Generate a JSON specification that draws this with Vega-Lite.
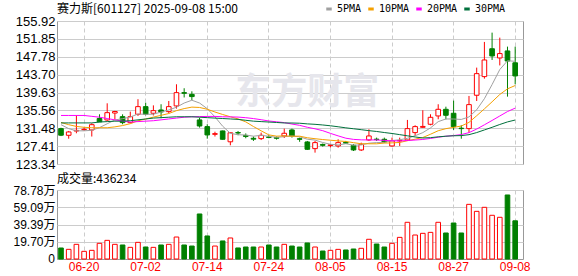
{
  "$schema": "https://vega.github.io/schema/vega-lite/v6.json",
  "background": "white",
  "padding": {"left": 12, "top": 2, "right": 0, "bottom": 0},
  "autosize": {"type": "pad"},
  "config": {
    "view": {"stroke": "#999999", "strokeWidth": 1},
    "bounds": "flush",
    "axis": {"labelFont": "Liberation Sans, Noto Sans CJK SC", "labelColor": "#000000"}
  },
  "spacing": 0,
  "datasets": {
    "k": [
      {"d":"06-17","o":131.4,"h":131.6,"l":129.7,"c":129.9,"pre":131.3,"v":125600,"5PMA":132.3,"10PMA":132.8,"20PMA":134.4,"30PMA":132.7},
      {"d":"06-18","o":129.88,"h":130.87,"l":129.1,"c":130.64,"pre":129.9,"v":110400,"5PMA":131.4,"10PMA":132.3,"20PMA":134.4,"30PMA":132.7},
      {"d":"06-19","o":130.85,"h":134.44,"l":130.34,"c":131.0,"pre":130.64,"v":167500,"5PMA":130.9,"10PMA":131.9,"20PMA":134.4,"30PMA":132.7},
      {"d":"06-20","o":131.15,"h":131.7,"l":130.9,"c":131.25,"pre":131.0,"v":87500,"5PMA":130.9,"10PMA":131.7,"20PMA":134.4,"30PMA":132.7},
      {"d":"06-23","o":131.1,"h":132.61,"l":129.6,"c":132.3,"pre":131.25,"v":99000,"5PMA":131.02,"10PMA":131.6,"20PMA":134.2,"30PMA":132.7},
      {"d":"06-24","o":133.7,"h":134.66,"l":132.9,"c":132.95,"pre":132.3,"v":179000,"5PMA":131.63,"10PMA":131.6,"20PMA":134.0,"30PMA":132.9},
      {"d":"06-25","o":133.37,"h":137.17,"l":133.15,"c":135.04,"pre":132.95,"v":213000,"5PMA":132.51,"10PMA":131.6,"20PMA":133.7,"30PMA":133.0},
      {"d":"06-26","o":134.95,"h":135.45,"l":133.5,"c":135.3,"pre":135.04,"v":167500,"5PMA":133.37,"10PMA":131.8,"20PMA":133.4,"30PMA":133.1},
      {"d":"06-27","o":134.13,"h":134.66,"l":132.39,"c":132.77,"pre":135.3,"v":160000,"5PMA":133.67,"10PMA":132.1,"20PMA":133.1,"30PMA":133.1},
      {"d":"06-30","o":132.77,"h":135.27,"l":132.6,"c":134.12,"pre":132.77,"v":133000,"5PMA":134.04,"10PMA":132.53,"20PMA":132.9,"30PMA":133.2},
      {"d":"07-01","o":134.67,"h":138.1,"l":134.3,"c":136.41,"pre":134.12,"v":190000,"5PMA":134.73,"10PMA":133.18,"20PMA":133.0,"30PMA":133.4},
      {"d":"07-02","o":136.41,"h":137.3,"l":134.43,"c":134.67,"pre":136.41,"v":137000,"5PMA":134.65,"10PMA":133.58,"20PMA":133.1,"30PMA":133.6},
      {"d":"07-03","o":134.9,"h":136.7,"l":134.4,"c":135.5,"pre":134.67,"v":133000,"5PMA":134.69,"10PMA":134.03,"20PMA":133.2,"30PMA":133.8},
      {"d":"07-04","o":135.65,"h":136.95,"l":133.76,"c":135.2,"pre":135.5,"v":160000,"5PMA":135.18,"10PMA":134.43,"20PMA":133.4,"30PMA":133.9},
      {"d":"07-07","o":135.27,"h":137.7,"l":134.9,"c":136.41,"pre":135.2,"v":167500,"5PMA":135.64,"10PMA":134.84,"20PMA":133.6,"30PMA":134.0},
      {"d":"07-08","o":136.57,"h":141.5,"l":135.96,"c":139.6,"pre":136.41,"v":251000,"5PMA":136.28,"10PMA":135.5,"20PMA":133.8,"30PMA":134.1},
      {"d":"07-09","o":139.6,"h":140.6,"l":138.5,"c":139.45,"pre":139.6,"v":160000,"5PMA":137.23,"10PMA":135.96,"20PMA":134.0,"30PMA":134.1},
      {"d":"07-10","o":139.2,"h":139.9,"l":137.9,"c":138.7,"pre":139.45,"v":148000,"5PMA":137.87,"10PMA":136.3,"20PMA":134.1,"30PMA":134.1},
      {"d":"07-11","o":133.38,"h":133.9,"l":131.63,"c":132.0,"pre":138.7,"v":514000,"5PMA":137.23,"10PMA":136.22,"20PMA":134.15,"30PMA":134.0},
      {"d":"07-14","o":131.86,"h":132.4,"l":129.1,"c":129.96,"pre":132.0,"v":263000,"5PMA":135.94,"10PMA":135.81,"20PMA":134.17,"30PMA":133.9},
      {"d":"07-15","o":130.1,"h":130.7,"l":129.6,"c":130.26,"pre":129.96,"v":148000,"5PMA":134.07,"10PMA":135.19,"20PMA":134.19,"30PMA":133.8},
      {"d":"07-16","o":130.87,"h":130.95,"l":128.9,"c":128.97,"pre":130.26,"v":206000,"5PMA":131.95,"10PMA":134.62,"20PMA":134.1,"30PMA":133.7},
      {"d":"07-17","o":128.4,"h":130.49,"l":127.6,"c":130.45,"pre":128.97,"v":240000,"5PMA":130.33,"10PMA":134.1,"20PMA":134.07,"30PMA":133.6},
      {"d":"07-18","o":130.5,"h":130.85,"l":129.9,"c":130.4,"pre":130.45,"v":126000,"5PMA":130.01,"10PMA":133.62,"20PMA":134.03,"30PMA":133.5},
      {"d":"07-21","o":129.85,"h":130.3,"l":129.2,"c":129.6,"pre":130.4,"v":137000,"5PMA":129.94,"10PMA":132.94,"20PMA":133.89,"30PMA":133.3},
      {"d":"07-22","o":129.2,"h":129.6,"l":128.6,"c":129.0,"pre":129.6,"v":137000,"5PMA":129.68,"10PMA":131.88,"20PMA":133.69,"30PMA":133.1},
      {"d":"07-23","o":129.12,"h":130.49,"l":128.8,"c":129.88,"pre":129.0,"v":137000,"5PMA":129.87,"10PMA":130.9,"20PMA":133.43,"30PMA":133.0},
      {"d":"07-24","o":129.5,"h":129.9,"l":129.2,"c":129.4,"pre":129.88,"v":160000,"5PMA":129.66,"10PMA":129.97,"20PMA":133.14,"30PMA":132.9},
      {"d":"07-25","o":129.35,"h":129.6,"l":128.9,"c":129.2,"pre":129.4,"v":137000,"5PMA":129.42,"10PMA":129.69,"20PMA":132.96,"30PMA":132.8},
      {"d":"07-28","o":129.73,"h":131.4,"l":129.27,"c":130.34,"pre":129.2,"v":167500,"5PMA":129.56,"10PMA":129.73,"20PMA":132.77,"30PMA":132.69},
      {"d":"07-29","o":131.1,"h":131.4,"l":129.35,"c":129.73,"pre":130.34,"v":148000,"5PMA":129.71,"10PMA":129.68,"20PMA":132.44,"30PMA":132.68},
      {"d":"07-30","o":129.1,"h":129.35,"l":128.4,"c":128.97,"pre":129.73,"v":137000,"5PMA":129.53,"10PMA":129.68,"20PMA":132.15,"30PMA":132.63},
      {"d":"07-31","o":128.36,"h":128.59,"l":126.54,"c":126.69,"pre":128.97,"v":183000,"5PMA":128.99,"10PMA":129.32,"20PMA":131.71,"30PMA":132.48},
      {"d":"08-01","o":126.84,"h":128.59,"l":125.93,"c":128.21,"pre":126.69,"v":137000,"5PMA":128.79,"10PMA":129.1,"20PMA":131.36,"30PMA":132.38},
      {"d":"08-04","o":127.8,"h":128.0,"l":127.3,"c":127.6,"pre":128.21,"v":91000,"5PMA":128.24,"10PMA":128.91,"20PMA":130.93,"30PMA":132.23},
      {"d":"08-05","o":127.55,"h":127.9,"l":127.1,"c":127.7,"pre":127.6,"v":99000,"5PMA":127.83,"10PMA":128.76,"20PMA":130.32,"30PMA":132.05},
      {"d":"08-06","o":127.45,"h":128.97,"l":127.07,"c":128.21,"pre":127.7,"v":110000,"5PMA":127.68,"10PMA":128.6,"20PMA":129.75,"30PMA":131.82},
      {"d":"08-07","o":128.25,"h":128.6,"l":127.9,"c":128.1,"pre":128.21,"v":103000,"5PMA":127.96,"10PMA":128.47,"20PMA":129.22,"30PMA":131.58},
      {"d":"08-08","o":127.6,"h":127.83,"l":126.3,"c":126.54,"pre":128.1,"v":114000,"5PMA":127.63,"10PMA":128.2,"20PMA":128.95,"30PMA":131.37},
      {"d":"08-11","o":126.54,"h":128.2,"l":126.3,"c":127.83,"pre":126.54,"v":122000,"5PMA":127.68,"10PMA":127.95,"20PMA":128.84,"30PMA":131.16},
      {"d":"08-12","o":128.82,"h":131.25,"l":128.6,"c":129.73,"pre":127.83,"v":225000,"5PMA":128.08,"10PMA":127.95,"20PMA":128.82,"30PMA":130.94},
      {"d":"08-13","o":129.0,"h":129.35,"l":128.6,"c":128.9,"pre":129.73,"v":171000,"5PMA":128.22,"10PMA":127.94,"20PMA":128.81,"30PMA":130.75},
      {"d":"08-14","o":128.97,"h":129.35,"l":128.1,"c":128.36,"pre":128.9,"v":137000,"5PMA":128.27,"10PMA":128.11,"20PMA":128.72,"30PMA":130.51},
      {"d":"08-15","o":127.45,"h":129.35,"l":127.3,"c":128.6,"pre":128.36,"v":179000,"5PMA":128.68,"10PMA":128.15,"20PMA":128.63,"30PMA":130.29},
      {"d":"08-18","o":128.6,"h":129.35,"l":127.45,"c":128.7,"pre":128.6,"v":247000,"5PMA":128.86,"10PMA":128.25,"20PMA":128.58,"30PMA":130.03},
      {"d":"08-19","o":128.82,"h":133.38,"l":128.6,"c":131.4,"pre":128.7,"v":419000,"5PMA":129.19,"10PMA":128.64,"20PMA":128.7,"30PMA":129.76},
      {"d":"08-20","o":130.49,"h":132.16,"l":129.73,"c":131.86,"pre":131.4,"v":274000,"5PMA":129.78,"10PMA":129.0,"20PMA":128.8,"30PMA":129.5},
      {"d":"08-21","o":131.7,"h":135.58,"l":131.55,"c":131.9,"pre":131.86,"v":293000,"5PMA":130.49,"10PMA":129.38,"20PMA":128.93,"30PMA":129.27},
      {"d":"08-22","o":132.39,"h":134.67,"l":132.16,"c":133.98,"pre":131.9,"v":304000,"5PMA":131.57,"10PMA":130.12,"20PMA":129.16,"30PMA":129.34},
      {"d":"08-25","o":134.29,"h":136.95,"l":133.53,"c":135.8,"pre":133.98,"v":419000,"5PMA":132.99,"10PMA":130.92,"20PMA":129.44,"30PMA":129.53},
      {"d":"08-26","o":135.8,"h":136.4,"l":133.5,"c":134.44,"pre":135.8,"v":297000,"5PMA":133.6,"10PMA":131.39,"20PMA":129.67,"30PMA":129.67},
      {"d":"08-27","o":134.9,"h":137.78,"l":131.1,"c":131.85,"pre":134.44,"v":411000,"5PMA":133.59,"10PMA":131.69,"20PMA":129.82,"30PMA":129.77},
      {"d":"08-28","o":131.5,"h":132.16,"l":129.1,"c":131.4,"pre":131.85,"v":297000,"5PMA":133.49,"10PMA":131.99,"20PMA":130.05,"30PMA":129.81},
      {"d":"08-29","o":131.4,"h":138.84,"l":130.49,"c":136.87,"pre":131.4,"v":624000,"5PMA":134.07,"10PMA":132.82,"20PMA":130.49,"30PMA":130.02},
      {"d":"09-01","o":139.0,"h":145.3,"l":137.7,"c":143.93,"pre":136.87,"v":544000,"5PMA":135.7,"10PMA":134.34,"20PMA":131.3,"30PMA":130.5},
      {"d":"09-02","o":143.25,"h":151.15,"l":142.79,"c":147.04,"pre":143.93,"v":590000,"5PMA":138.22,"10PMA":135.9,"20PMA":132.27,"30PMA":131.1},
      {"d":"09-03","o":149.6,"h":153.27,"l":147.04,"c":147.96,"pre":147.04,"v":499000,"5PMA":141.44,"10PMA":137.51,"20PMA":133.26,"30PMA":131.7},
      {"d":"09-04","o":147.5,"h":152.13,"l":145.8,"c":148.5,"pre":147.96,"v":476000,"5PMA":144.86,"10PMA":139.18,"20PMA":134.28,"30PMA":132.34},
      {"d":"09-05","o":149.1,"h":150.08,"l":138.69,"c":146.8,"pre":148.5,"v":731000,"5PMA":146.85,"10PMA":140.46,"20PMA":135.29,"30PMA":132.93},
      {"d":"09-08","o":146.4,"h":150.08,"l":141.5,"c":143.4,"pre":146.8,"v":436234,"5PMA":146.74,"10PMA":141.22,"20PMA":136.07,"30PMA":133.36}
    ]
  },
  "vconcat": [
    {
      "width": 466,
      "height": 143,
      "title": {"text": "赛力斯[601127] 2025-09-08 15:00", "anchor": "start", "frame": "group", "font": "Noto Sans CJK SC", "fontSize": 12, "fontWeight": "normal", "color": "#000000", "offset": -1},
      "data": {"name": "k"},
      "encoding": {
        "x": {
          "field": "d", "type": "ordinal", "title": null,
          "scale": {"type": "band", "paddingInner": 0.4, "paddingOuter": 0.4675, "align": 0.235},
          "axis": {"values": ["06-20","07-02","07-14","07-24","08-05","08-15","08-27","09-08"], "labels": false, "ticks": false, "domain": false, "grid": true, "gridColor": "#cccccc", "gridDash": [4, 3], "bandPosition": 0.5}
        }
      },
      "layer": [
        {
          "data": {"values": [{}]},
          "mark": {"type": "text", "text": "东方财富", "font": "Noto Sans CJK SC", "fontSize": 36, "fontWeight": "bold", "color": "#e6e6ec", "align": "center", "baseline": "middle"},
          "encoding": {"x": {"datum": "07-31", "type": "ordinal"}, "y": {"datum": 139.45, "type": "quantitative"}}
        },
        {
          "mark": {"type": "rule", "strokeWidth": 1},
          "encoding": {
            "y": {
              "field": "l", "type": "quantitative", "title": null,
              "scale": {"domain": [123.34, 155.92], "nice": false, "zero": false},
              "axis": {"values": [123.34,127.41,131.48,135.56,139.63,143.70,147.78,151.85,155.92], "tickCount": 30, "format": ".2f", "labelFontSize": 13, "labelPadding": 2, "ticks": false, "domain": false, "grid": true, "gridColor": "#cccccc", "labelFlush": false, "labelOverlap": false, "minExtent": 44, "maxExtent": 44}
            },
            "y2": {"field": "h"},
            "color": {"condition": {"test": "datum.c >= datum.o", "value": "#ff0000"}, "value": "#008000"}
          }
        },
        {
          "mark": {"type": "bar", "strokeWidth": 1},
          "encoding": {
            "y": {"field": "o", "type": "quantitative", "title": null},
            "y2": {"field": "c"},
            "fill": {"condition": {"test": "datum.c >= datum.o", "value": "#ffffff"}, "value": "#008000"},
            "stroke": {"condition": {"test": "datum.c >= datum.o", "value": "#ff0000"}, "value": "#008000"}
          }
        },
        {
          "transform": [{"fold": ["5PMA", "10PMA", "20PMA", "30PMA"], "as": ["key", "value"]}],
          "mark": {"type": "line", "strokeWidth": 1},
          "encoding": {
            "y": {"field": "value", "type": "quantitative", "title": null},
            "color": {
              "field": "key", "type": "nominal",
              "scale": {"domain": ["5PMA", "10PMA", "20PMA", "30PMA"], "range": ["#a0a0a0", "#f5a000", "#ff00ff", "#00703c"]},
              "legend": {"orient": "none", "legendX": 267, "legendY": -17, "direction": "horizontal", "title": null, "labelFont": "DejaVu Sans Mono", "labelFontSize": 10, "labelColor": "#000000", "symbolType": "stroke", "symbolSize": 30, "symbolStrokeWidth": 3, "labelOffset": 3, "columnPadding": 0}
            }
          }
        }
      ]
    },
    {
      "width": 466,
      "height": 69,
      "title": {"text": "成交量:436234", "anchor": "start", "frame": "group", "font": "Noto Sans CJK SC", "fontSize": 12, "fontWeight": "normal", "color": "#000000", "offset": -2},
      "data": {"name": "k"},
      "encoding": {
        "x": {
          "field": "d", "type": "ordinal", "title": null,
          "scale": {"type": "band", "paddingInner": 0.4, "paddingOuter": 0.4675, "align": 0.235},
          "axis": {"values": ["06-20","07-02","07-14","07-24","08-05","08-15","08-27","09-08"], "labelColor": "#ff0000", "labelFontSize": 12, "labelPadding": 2, "labelAngle": 0, "ticks": false, "domain": false, "grid": true, "gridColor": "#cccccc", "gridDash": [4, 3], "bandPosition": 0.5}
        }
      },
      "layer": [
        {
          "mark": {"type": "bar", "strokeWidth": 1},
          "encoding": {
            "y": {
              "field": "v", "type": "quantitative", "title": null,
              "scale": {"domain": [0, 787800], "nice": false},
              "axis": {"values": [196960, 393900, 590860, 787800], "tickCount": 30, "labelExpr": "format(datum.value / 10000, '.2f') + '万'", "labelFontSize": 12, "labelPadding": 2, "ticks": false, "domain": false, "grid": true, "gridColor": "#cccccc", "labelFlush": false, "labelOverlap": false, "minExtent": 44, "maxExtent": 44}
            },
            "fill": {"condition": {"test": "datum.c >= datum.pre", "value": "#ffffff"}, "value": "#008000"},
            "stroke": {"condition": {"test": "datum.c >= datum.pre", "value": "#ff0000"}, "value": "#008000"}
          }
        },
        {
          "data": {"values": [{}]},
          "mark": {"type": "text", "text": "0", "font": "Liberation Sans", "fontSize": 12, "color": "#000000", "align": "right", "baseline": "middle", "dx": -6},
          "encoding": {"x": {"datum": "06-17", "type": "ordinal"}, "y": {"datum": 0, "type": "quantitative", "title": null}}
        }
      ]
    }
  ]
}
